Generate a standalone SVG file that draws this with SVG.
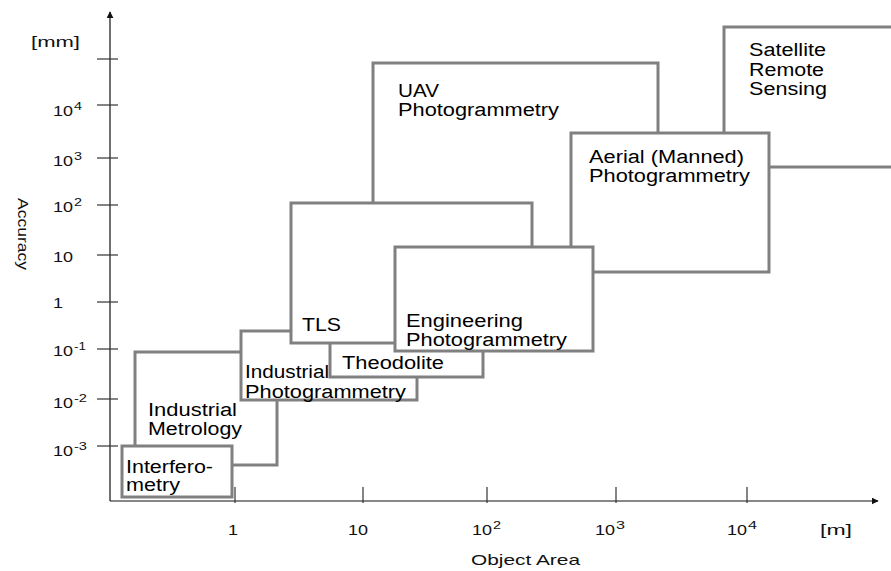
<svg xmlns="http://www.w3.org/2000/svg" width="891" height="571" viewBox="0 0 891 571">
  <style>
    .box { fill: #ffffff; stroke: #808080; stroke-width: 3; }
    .lbl { font-family: "Liberation Sans", Arial, sans-serif; font-size: 18px; fill: #000000; }
    .ax { font-family: "Liberation Sans", Arial, sans-serif; font-size: 14.5px; fill: #111111; }
    .sup { font-family: "Liberation Sans", Arial, sans-serif; font-size: 10.5px; fill: #111111; }
    .axis { stroke: #111111; stroke-width: 1.2; fill: none; }
    .tick { stroke: #333333; stroke-width: 1.2; }
  </style>
  <defs>
    <marker id="arrow" viewBox="0 0 10 10" refX="9" refY="5" markerWidth="7" markerHeight="7" markerUnits="userSpaceOnUse" orient="auto">
      <path d="M0,0 L10,5 L0,10 z" fill="#111111"/>
    </marker>
  </defs>

  <rect x="0" y="0" width="891" height="571" fill="#ffffff"/>

  <!-- axes, ticks and scale labels -->
  <g id="axes">
    <line class="axis" x1="110" y1="501" x2="110" y2="12" marker-end="url(#arrow)"/>
    <line class="axis" x1="110" y1="501" x2="878" y2="501" marker-end="url(#arrow)"/>

    <g class="tick">
      <line x1="97" y1="59" x2="118" y2="59"/>
      <line x1="97" y1="105" x2="118" y2="105"/>
      <line x1="97" y1="158" x2="118" y2="158"/>
      <line x1="97" y1="205" x2="118" y2="205"/>
      <line x1="97" y1="255" x2="118" y2="255"/>
      <line x1="97" y1="302" x2="118" y2="302"/>
      <line x1="97" y1="349" x2="118" y2="349"/>
      <line x1="97" y1="399" x2="118" y2="399"/>
      <line x1="97" y1="446" x2="118" y2="446"/>

      <line x1="235" y1="487" x2="235" y2="503"/>
      <line x1="363" y1="487" x2="363" y2="503"/>
      <line x1="487" y1="487" x2="487" y2="503"/>
      <line x1="616" y1="487" x2="616" y2="503"/>
      <line x1="747" y1="487" x2="747" y2="503"/>
    </g>

    <text class="ax" x="31" y="47" textLength="49" lengthAdjust="spacingAndGlyphs">[mm]</text>

    <text class="ax" x="53" y="116" textLength="20" lengthAdjust="spacingAndGlyphs">10</text>
    <text class="sup" x="74" y="110" textLength="8" lengthAdjust="spacingAndGlyphs">4</text>
    <text class="ax" x="53" y="166" textLength="20" lengthAdjust="spacingAndGlyphs">10</text>
    <text class="sup" x="74" y="160" textLength="8" lengthAdjust="spacingAndGlyphs">3</text>
    <text class="ax" x="53" y="212" textLength="20" lengthAdjust="spacingAndGlyphs">10</text>
    <text class="sup" x="74" y="206" textLength="8" lengthAdjust="spacingAndGlyphs">2</text>
    <text class="ax" x="53" y="262" textLength="20" lengthAdjust="spacingAndGlyphs">10</text>
    <text class="ax" x="53" y="308" textLength="10" lengthAdjust="spacingAndGlyphs">1</text>
    <text class="ax" x="53" y="356" textLength="20" lengthAdjust="spacingAndGlyphs">10</text>
    <text class="sup" x="74" y="350" textLength="12" lengthAdjust="spacingAndGlyphs">-1</text>
    <text class="ax" x="53" y="408" textLength="20" lengthAdjust="spacingAndGlyphs">10</text>
    <text class="sup" x="74" y="402" textLength="13" lengthAdjust="spacingAndGlyphs">-2</text>
    <text class="ax" x="53" y="456" textLength="20" lengthAdjust="spacingAndGlyphs">10</text>
    <text class="sup" x="74" y="450" textLength="13" lengthAdjust="spacingAndGlyphs">-3</text>

    <text class="ax" transform="translate(18,198) rotate(90)" x="0" y="0" font-size="17" textLength="72" lengthAdjust="spacingAndGlyphs">Accuracy</text>

    <text class="ax" x="228" y="535" textLength="10" lengthAdjust="spacingAndGlyphs">1</text>
    <text class="ax" x="348" y="535" textLength="20" lengthAdjust="spacingAndGlyphs">10</text>
    <text class="ax" x="472" y="535" textLength="20" lengthAdjust="spacingAndGlyphs">10</text>
    <text class="sup" x="493" y="529" textLength="8" lengthAdjust="spacingAndGlyphs">2</text>
    <text class="ax" x="595" y="535" textLength="20" lengthAdjust="spacingAndGlyphs">10</text>
    <text class="sup" x="616" y="529" textLength="9" lengthAdjust="spacingAndGlyphs">3</text>
    <text class="ax" x="727" y="535" textLength="20" lengthAdjust="spacingAndGlyphs">10</text>
    <text class="sup" x="748" y="529" textLength="9" lengthAdjust="spacingAndGlyphs">4</text>
    <text class="ax" x="820" y="535" textLength="32" lengthAdjust="spacingAndGlyphs">[m]</text>
    <text class="ax" x="471" y="565" textLength="109" lengthAdjust="spacingAndGlyphs">Object Area</text>
  </g>

  <!-- no connectors in this chart; kept as an empty layer -->
  <g id="connectors"></g>

  <!-- method ranges, painted back to front so later boxes hide earlier edges -->
  <g id="uav">
    <rect class="box" x="373" y="63" width="285" height="197"/>
    <text class="lbl" x="398" y="97" textLength="41" lengthAdjust="spacingAndGlyphs">UAV</text>
    <text class="lbl" x="398" y="116" textLength="161" lengthAdjust="spacingAndGlyphs">Photogrammetry</text>
  </g>

  <g id="satellite">
    <rect class="box" x="724" y="27" width="200" height="140"/>
    <text class="lbl" x="749" y="56" textLength="77" lengthAdjust="spacingAndGlyphs">Satellite</text>
    <text class="lbl" x="749" y="75.5" textLength="75" lengthAdjust="spacingAndGlyphs">Remote</text>
    <text class="lbl" x="749" y="95" textLength="78" lengthAdjust="spacingAndGlyphs">Sensing</text>
  </g>

  <g id="aerial">
    <rect class="box" x="571" y="133" width="198" height="139"/>
    <text class="lbl" x="589" y="163" textLength="155" lengthAdjust="spacingAndGlyphs">Aerial (Manned)</text>
    <text class="lbl" x="589" y="182" textLength="161" lengthAdjust="spacingAndGlyphs">Photogrammetry</text>
  </g>

  <g id="industrial-metrology">
    <rect class="box" x="135" y="352" width="142" height="113"/>
    <text class="lbl" x="148" y="416" textLength="89" lengthAdjust="spacingAndGlyphs">Industrial</text>
    <text class="lbl" x="148" y="435" textLength="94" lengthAdjust="spacingAndGlyphs">Metrology</text>
  </g>

  <g id="interferometry">
    <rect class="box" x="122" y="446" width="110" height="51"/>
    <text class="lbl" x="126" y="473" textLength="87" lengthAdjust="spacingAndGlyphs">Interfero-</text>
    <text class="lbl" x="126" y="491" textLength="54" lengthAdjust="spacingAndGlyphs">metry</text>
  </g>

  <g id="industrial-photogrammetry">
    <rect class="box" x="241" y="331" width="176" height="69"/>
    <text class="lbl" x="245" y="378" textLength="84" lengthAdjust="spacingAndGlyphs">Industrial</text>
    <text class="lbl" x="245" y="398" textLength="161" lengthAdjust="spacingAndGlyphs">Photogrammetry</text>
  </g>

  <g id="theodolite">
    <rect class="box" x="330" y="338" width="153" height="39"/>
    <text class="lbl" x="342" y="369" textLength="102" lengthAdjust="spacingAndGlyphs">Theodolite</text>
  </g>

  <g id="tls">
    <rect class="box" x="291" y="203" width="241" height="140"/>
    <text class="lbl" x="302" y="331" textLength="39" lengthAdjust="spacingAndGlyphs">TLS</text>
  </g>

  <g id="engineering-photogrammetry">
    <rect class="box" x="395" y="247" width="198" height="104"/>
    <text class="lbl" x="406" y="327" textLength="117" lengthAdjust="spacingAndGlyphs">Engineering</text>
    <text class="lbl" x="406" y="346" textLength="161" lengthAdjust="spacingAndGlyphs">Photogrammetry</text>
  </g>
</svg>
